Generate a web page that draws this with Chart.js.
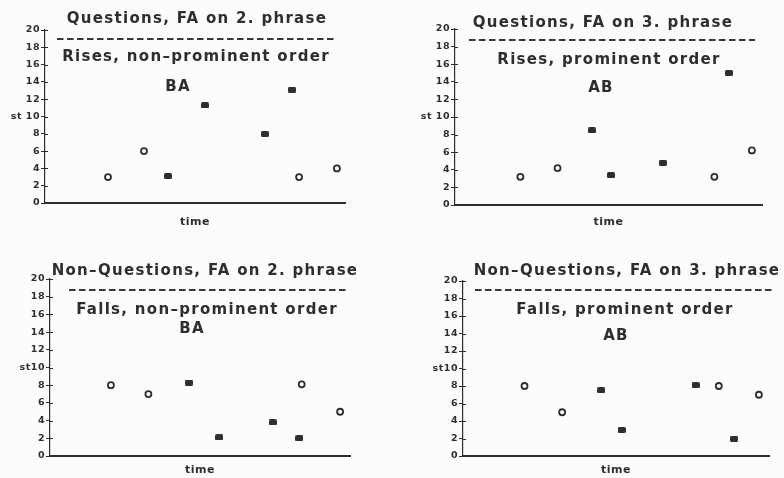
<!DOCTYPE html>
<html>
<head>
<meta charset="utf-8">
<script src="https://cdn.jsdelivr.net/npm/chart.js@4.4.1/dist/chart.umd.min.js"></script>
<style>
  html, body { margin: 0; padding: 0; background: #fcfcfc; }
  #wrap { position: relative; width: 784px; height: 478px; overflow: hidden; }
  canvas { position: absolute; }
</style>
</head>
<body>
<div id="wrap">
  <canvas id="c1" width="392" height="239" style="left:0;top:0"></canvas>
  <canvas id="c2" width="392" height="239" style="left:392px;top:0"></canvas>
  <canvas id="c3" width="392" height="239" style="left:0;top:239px"></canvas>
  <canvas id="c4" width="392" height="239" style="left:392px;top:239px"></canvas>
</div>
<script>
// ---------------- data ----------------
const yTickValues = [0, 2, 4, 6, 8, 10, 12, 14, 16, 18, 20];
const yTickLabelsTop = ['0', '2', '4', '6', '8', 'st 10', '12', '14', '16', '18', '20'];
const yTickLabelsBottom = ['0', '2', '4', '6', '8', 'st10', '12', '14', '16', '18', '20'];
const xAxisLabel = 'time';

// Panel 1: Questions, FA on 2. phrase / Rises, non-prominent order / BA
const p1Titles = ['Questions, FA on 2. phrase', 'Rises, non\u2013prominent order', 'BA'];
const p1OpenTime = [21.0, 33.0, 84.7, 97.3];
const p1OpenSt = [3.0, 6.0, 3.0, 4.0];
const p1FilledTime = [41.0, 53.3, 73.3, 82.3];
const p1FilledSt = [3.1, 11.3, 8.0, 13.1];

// Panel 2: Questions, FA on 3. phrase / Rises, prominent order / AB
const p2Titles = ['Questions, FA on 3. phrase', 'Rises, prominent order', 'AB'];
const p2OpenTime = [21.3, 33.4, 84.5, 96.7];
const p2OpenSt = [3.2, 4.2, 3.2, 6.2];
const p2FilledTime = [44.6, 50.8, 67.7, 89.2];
const p2FilledSt = [8.5, 3.4, 4.8, 15.0];

// Panel 3: Non-Questions, FA on 2. phrase / Falls, non-prominent order / BA
const p3Titles = ['Non\u2013Questions, FA on 2. phrase', 'Falls, non\u2013prominent order', 'BA'];
const p3OpenTime = [20.3, 32.8, 83.9, 96.7];
const p3OpenSt = [8.0, 7.0, 8.1, 5.0];
const p3FilledTime = [46.3, 56.4, 74.2, 83.1];
const p3FilledSt = [8.3, 2.1, 3.8, 2.0];

// Panel 4: Non-Questions, FA on 3. phrase / Falls, prominent order / AB
const p4Titles = ['Non\u2013Questions, FA on 3. phrase', 'Falls, prominent order', 'AB'];
const p4OpenTime = [20.1, 32.4, 83.6, 96.7];
const p4OpenSt = [8.0, 5.0, 8.0, 7.0];
const p4FilledTime = [45.2, 51.8, 76.0, 88.6];
const p4FilledSt = [7.5, 3.0, 8.1, 2.0];

// ---------------- style ----------------
const INK = '#2e2e2e';
const FONT = 'DejaVu Sans';

// filled marker: small rounded block, a bit wider than tall
const filledMarker = (() => {
  const c = document.createElement('canvas');
  c.width = 8; c.height = 6;
  const x = c.getContext('2d');
  x.fillStyle = INK;
  x.beginPath();
  x.roundRect(0, 0, 8, 6, 1.5);
  x.fill();
  return c;
})();

const panelText = {
  id: 'panelText',
  beforeDraw(chart) {
    chart.ctx.letterSpacing = '0.5px';
  },
  afterDraw(chart, args, o) {
    const ctx = chart.ctx;
    const ys = chart.scales.y;
    ctx.save();
    // inner half of crossing ticks on y axis
    ctx.strokeStyle = INK;
    ctx.lineWidth = 1;
    ys.ticks.forEach(t => {
      const py = Math.round(ys.getPixelForValue(t.value)) + 0.5;
      ctx.beginPath();
      ctx.moveTo(ys.right, py);
      ctx.lineTo(ys.right + 3, py);
      ctx.stroke();
    });
    // titles
    ctx.fillStyle = INK;
    ctx.textAlign = 'center';
    ctx.textBaseline = 'middle';
    ctx.font = 'bold 15px "' + FONT + '"';
    ctx.letterSpacing = '1.3px';
    ctx.fillText(o.texts[0], o.l1[0], o.l1[1]);
    ctx.fillText(o.texts[1], o.l2[0], o.l2[1]);
    ctx.fillText(o.texts[2], o.l3[0], o.l3[1]);
    // dashed separator
    ctx.strokeStyle = '#383838';
    ctx.setLineDash([6.5, 3.5]);
    ctx.lineWidth = 2;
    ctx.beginPath();
    ctx.moveTo(o.dash[0], o.dash[2]);
    ctx.lineTo(o.dash[1], o.dash[2]);
    ctx.stroke();
    ctx.restore();
  }
};

function makePanel(id, g, titles, openT, openS, filledT, filledS, tickLabels) {
  const W = 392, H = 239;
  return new Chart(document.getElementById(id), {
    type: 'scatter',
    data: {
      datasets: [
        {
          label: 'open',
          data: openT.map((t, i) => ({ x: t, y: openS[i] })),
          pointStyle: 'circle',
          pointRadius: 3,
          pointBorderWidth: 1.8,
          pointBackgroundColor: 'rgba(0,0,0,0)',
          pointBorderColor: INK
        },
        {
          label: 'filled',
          data: filledT.map((t, i) => ({ x: t, y: filledS[i] })),
          pointStyle: filledMarker,
          pointRadius: 4
        }
      ]
    },
    options: {
      responsive: false,
      animation: false,
      events: [],
      layout: { padding: { top: g.top, right: W - g.right, left: 0, bottom: 0 } },
      plugins: {
        legend: { display: false },
        tooltip: { enabled: false },
        panelText: { texts: titles, l1: g.l1, l2: g.l2, l3: g.l3, dash: g.dash }
      },
      scales: {
        x: {
          type: 'linear',
          min: 0,
          max: 100,
          ticks: { display: false },
          grid: { display: false },
          border: { display: true, color: INK, width: 2 },
          title: {
            display: true,
            text: xAxisLabel,
            color: INK,
            font: { family: FONT, size: 11, weight: 'bold' },
            padding: { top: 0, bottom: g.timePad }
          },
          afterFit: s => { s.height = H - g.bottom; }
        },
        y: {
          min: 0,
          max: 20,
          afterBuildTicks: s => { s.ticks = yTickValues.map(v => ({ value: v })); },
          ticks: {
            color: INK,
            padding: 1,
            font: { family: FONT, size: 9.5, weight: 'bold' },
            callback: v => tickLabels[yTickValues.indexOf(v)]
          },
          grid: { drawOnChartArea: false, drawTicks: true, tickLength: 4, color: INK, lineWidth: 1 },
          border: { display: true, color: INK, width: 1.2 },
          afterFit: s => { s.width = g.left; }
        }
      }
    },
    plugins: [panelText]
  });
}

makePanel('c1',
  { left: 45, right: 345, top: 30, bottom: 203, timePad: 10,
    l1: [197, 19], l2: [196, 57], l3: [178, 87], dash: [57, 335, 39] },
  p1Titles, p1OpenTime, p1OpenSt, p1FilledTime, p1FilledSt, yTickLabelsTop);

makePanel('c2',
  { left: 63, right: 370, top: 29, bottom: 205, timePad: 10,
    l1: [211, 23], l2: [217, 60], l3: [209, 88], dash: [77, 363, 40] },
  p2Titles, p2OpenTime, p2OpenSt, p2FilledTime, p2FilledSt, yTickLabelsTop);

makePanel('c3',
  { left: 50, right: 350, top: 40, bottom: 217, timePad: 1,
    l1: [205, 32], l2: [207, 71], l3: [192, 90], dash: [69, 348, 51] },
  p3Titles, p3OpenTime, p3OpenSt, p3FilledTime, p3FilledSt, yTickLabelsBottom);

makePanel('c4',
  { left: 71, right: 377, top: 42, bottom: 217, timePad: 1,
    l1: [235, 32], l2: [233, 71], l3: [224, 97], dash: [83, 380, 51] },
  p4Titles, p4OpenTime, p4OpenSt, p4FilledTime, p4FilledSt, yTickLabelsBottom);
</script>
</body>
</html>
